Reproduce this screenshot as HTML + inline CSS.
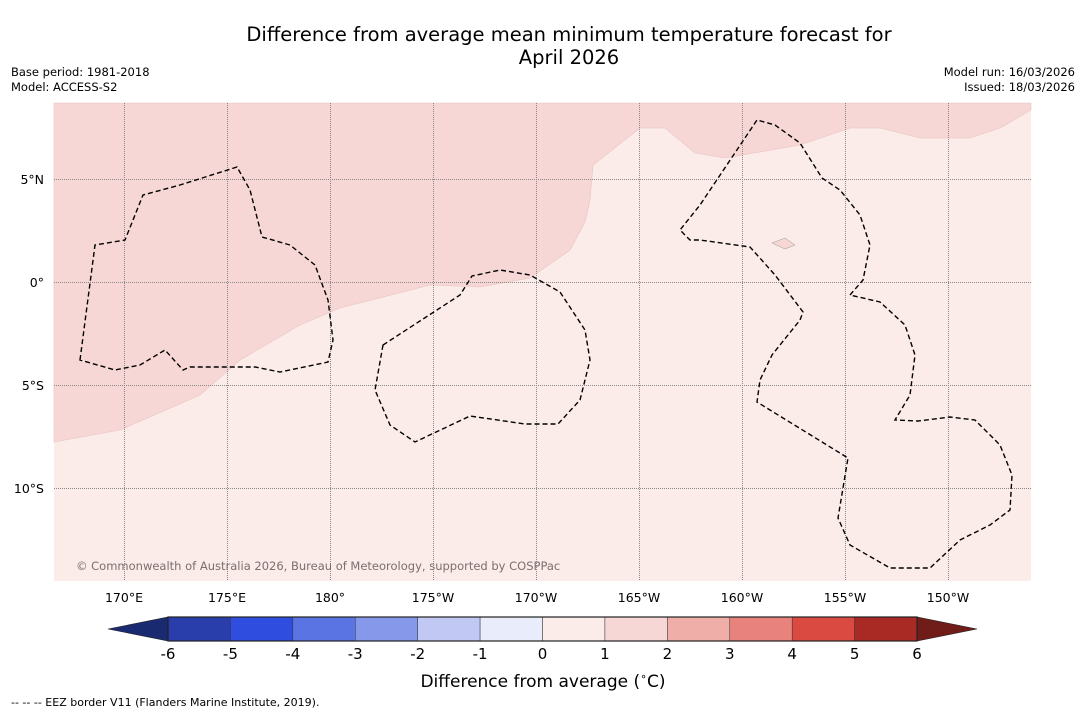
<!DOCTYPE html>
<html><head><meta charset="utf-8"><style>
body{margin:0;background:#fff;font-family:"DejaVu Sans","Liberation Sans",sans-serif;}
svg text{font-family:"DejaVu Sans","Liberation Sans",sans-serif;}
</style></head><body>
<svg width="1085" height="713" viewBox="0 0 1085 713">
<text x="569" y="41" text-anchor="middle" font-size="19.5">Difference from average mean minimum temperature forecast for</text>
<text x="569" y="64" text-anchor="middle" font-size="19.5">April 2026</text>
<text x="11" y="76" font-size="11.5">Base period: 1981-2018</text>
<text x="11" y="91" font-size="11.5">Model: ACCESS-S2</text>
<text x="1075" y="76" font-size="11.5" text-anchor="end">Model run: 16/03/2026</text>
<text x="1075" y="91" font-size="11.5" text-anchor="end">Issued: 18/03/2026</text>
<g id="map">
<rect x="54" y="103" width="977" height="478" fill="#fbebe9"/>
<polygon fill="#f6d7d5" stroke="#e8c4c1" stroke-width="0.6" points="54,442 120,430 200,395 240,360 300,325 340,308 430,285 480,287 530,278 570,250 585,222 590,200 593,165 640,128 665,128 695,153 725,158 800,145 850,128 880,128 920,138 970,138 1000,128 1031,110 1031,103 54,103"/>
<g id="grid"></g>
<g fill="none" stroke="#000" stroke-width="1.4" stroke-dasharray="5,3">
<polygon points="80,360 95,245 125,240 143,195 180,185 237,167 250,190 262,237 290,245 315,265 328,300 333,340 328,362 280,372 255,367 190,367 183,370 165,350 140,365 115,370"/>
<polygon points="383,345 460,295 472,276 500,270 530,275 560,292 585,330 590,360 580,400 558,424 525,424 470,416 415,442 390,425 375,390"/>
<polyline points="850,295 863,280 870,245 860,215 840,190 822,178 800,143 775,125 757,120 700,205 680,230 690,240 700,240 750,247 775,275 803,312 800,320 772,355 760,380 757,402 848,458 838,518 850,545 890,568 930,568 960,540 990,525 1010,510 1012,475 1000,445 975,420 950,417 918,421 895,420 910,395 915,355 905,325 880,302 850,295"/>
</g>
<polygon points="772,243 785,238 795,245 785,249" fill="#f6d7d5" stroke="#999" stroke-width="0.5"/>
<text x="76" y="570" font-size="11.5" fill="#7a6f6f">© Commonwealth of Australia 2026, Bureau of Meteorology, supported by COSPPac</text>
</g>
<g id="axes"></g>
<g id="cbar"></g>
<text x="543" y="687" text-anchor="middle" font-size="17">Difference from average (<tspan font-size="11" dy="-7">∘</tspan><tspan dy="7">C)</tspan></text>
<text x="11" y="706" font-size="11">-- -- -- EEZ border V11 (Flanders Marine Institute, 2019).</text>
</svg>
<script>
const lonTicks=[170,175,180,185,190,195,200,205,210];
const lonLabels=["170°E","175°E","180°","175°W","170°W","165°W","160°W","155°W","150°W"];
const latTicks=[5,0,-5,-10];
const latLabels=["5°N","0°","5°S","10°S"];
const cbarLevels=[-6,-5,-4,-3,-2,-1,0,1,2,3,4,5,6];
const cbarColors=["#2a3eab","#2f4ee0","#5a74e3","#8598ea","#c0c8f3","#e9ecfa","#fcece9","#f7d7d5","#efaea8","#e7837c","#db4a41","#a92a24"];
const NS="http://www.w3.org/2000/svg";
const xLon=l=>124+(l-170)*20.6;
const yLat=l=>282-l*20.6;
const grid=document.getElementById('grid'),axes=document.getElementById('axes'),cb=document.getElementById('cbar');
function mk(tag,at,parent){const e=document.createElementNS(NS,tag);for(const k in at)e.setAttribute(k,at[k]);parent.appendChild(e);return e;}
lonTicks.forEach((l,i)=>{
 const x=Math.round(xLon(l))+0.5;
 const ln=mk('line',{x1:x,x2:x,y1:103,y2:581,stroke:'#888','stroke-width':1,'stroke-dasharray':'1,1'},grid);
 
 
 const t=mk('text',{x:xLon(l),y:602,'text-anchor':'middle','font-size':12.5},axes);t.textContent=lonLabels[i];
 
 
});
latTicks.forEach((l,i)=>{
 const y=Math.round(yLat(l))+0.5;
 const ln=mk('line',{x1:54,x2:1031,y1:y,y2:y,stroke:'#888','stroke-width':1,'stroke-dasharray':'1,1'},grid);
 
 
 const t=mk('text',{x:44,y:yLat(l)+5,'text-anchor':'end','font-size':12.5},axes);t.textContent=latLabels[i];
 
 
});
const cx=v=>168+(v+6)*62.42, cy0=617, cy1=641;
cbarColors.forEach((c,i)=>{
 const r=mk('rect',{x:cx(cbarLevels[i]),y:cy0,width:cx(cbarLevels[i+1])-cx(cbarLevels[i]),height:cy1-cy0,fill:c,stroke:'#333','stroke-width':0.5},cb);
 
 
});
const e1=mk('polygon',{points:`108,629 ${cx(-6)},${cy0} ${cx(-6)},${cy1}`,fill:'#1a2a70',stroke:'#222','stroke-width':0.6},cb);


const e2=mk('polygon',{points:`977,629 ${cx(6)},${cy0} ${cx(6)},${cy1}`,fill:'#701c18',stroke:'#222','stroke-width':0.6},cb);


mk('rect',{x:cx(-6),y:cy0,width:cx(6)-cx(-6),height:cy1-cy0,fill:'none',stroke:'#222','stroke-width':1.2},cb);
cbarLevels.forEach(v=>{
 const t=mk('text',{x:cx(v),y:659,'text-anchor':'middle','font-size':15},cb);t.textContent=v;
 
 
});
</script>
</body></html>
